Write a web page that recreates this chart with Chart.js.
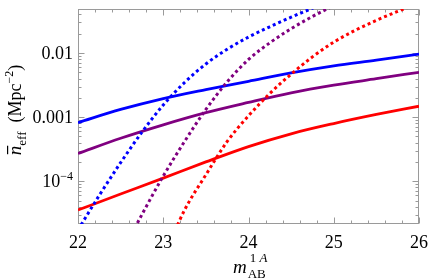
<!DOCTYPE html>
<html><head><meta charset="utf-8">
<script src="https://cdn.jsdelivr.net/npm/chart.js@4"></script>
<style>html,body{margin:0;padding:0;background:#fff}canvas{display:block}</style>
</head><body>
<canvas id="c" width="436" height="279"></canvas>
<script>
// ---- data ----
const xTickValues = [22, 23, 24, 25, 26];
const yTickValues = [1e-4, 1e-3, 1e-2];
const yTickLabels = [['10', '\u22124'], ['0.001', ''], ['0.01', '']];

const mSolid = [22, 22.5, 23, 23.5, 24, 24.5, 25, 25.5, 26];
const blueSolid   = [8.22e-4, 1.318e-3, 1.95e-3, 2.69e-3, 3.63e-3, 4.90e-3, 6.31e-3, 7.76e-3, 9.64e-3];
const purpleSolid = [2.71e-4, 4.68e-4, 7.59e-4, 1.175e-3, 1.70e-3, 2.40e-3, 3.16e-3, 3.98e-3, 5.01e-3];
const redSolid    = [3.55e-5, 6.31e-5, 1.12e-4, 2.00e-4, 3.47e-4, 5.50e-4, 7.94e-4, 1.10e-3, 1.48e-3];

const mBlueDot = [22, 22.25, 22.5, 22.75, 23, 23.25, 23.5, 23.75, 24, 24.25, 24.5, 24.75, 25];
const blueDotted = [1.74e-5, 6.03e-5, 1.95e-4, 5.82e-4, 1.549e-3, 3.47e-3, 6.76e-3, 1.148e-2, 1.778e-2, 2.57e-2, 3.63e-2, 5.01e-2, 6.92e-2];

const mPurpleDot = [22.5, 22.75, 23, 23.25, 23.5, 23.75, 24, 24.25, 24.5, 24.75, 25];
const purpleDotted = [7.08e-6, 3.02e-5, 1.202e-4, 4.17e-4, 1.318e-3, 3.55e-3, 7.94e-3, 1.445e-2, 2.40e-2, 3.72e-2, 5.50e-2];

const mRedDot = [23, 23.25, 23.5, 23.75, 24, 24.25, 24.5, 24.75, 25, 25.25, 25.5, 25.75, 26];
const redDotted = [6.31e-6, 3.55e-5, 1.259e-4, 4.17e-4, 1.047e-3, 2.34e-3, 4.68e-3, 8.71e-3, 1.479e-2, 2.26e-2, 3.24e-2, 4.47e-2, 6.03e-2];

const xMin = 22, xMax = 26, yMin = 2.15e-5, yMax = 0.0487;

// ---- build ----
const pts = (xs, ys) => xs.map((v, i) => ({x: v, y: ys[i]}));
const BLUE = '#0000ff', PURPLE = '#800080', RED = '#ff0000';
const SERIF = '"Liberation Serif", "DejaVu Serif", serif';

function solid(label, xs, ys, color) {
  return {label, data: pts(xs, ys), borderColor: color, borderWidth: 2.8,
    pointRadius: 0, fill: false, cubicInterpolationMode: 'monotone'};
}
function dotted(label, xs, ys, color) {
  return {label, data: pts(xs, ys), borderColor: color, borderWidth: 3,
    borderDash: [3, 3], borderCapStyle: 'butt', pointRadius: 0, fill: false,
    cubicInterpolationMode: 'monotone'};
}

const decor = {
  id: 'decor',
  beforeDatasetsDraw(chart) {
    const {ctx, chartArea: a, scales: {x, y}} = chart;
    ctx.save();
    ctx.strokeStyle = '#9a9a9a';
    ctx.lineWidth = 1;
    const L = Math.round(a.left) + 0.5, R = Math.round(a.right) - 0.5;
    const T = Math.round(a.top) + 0.5, B = Math.round(a.bottom) - 0.5;
    ctx.strokeRect(L, T, R - L, B - T);
    ctx.beginPath();
    for (let k = 0; k <= 20; k++) {
      const v = xMin + k * 0.2;
      const px = Math.round(x.getPixelForValue(v)) + 0.5;
      const len = (k % 5 === 0) ? 6 : 3;
      ctx.moveTo(px, B); ctx.lineTo(px, B - len);
      ctx.moveTo(px, T); ctx.lineTo(px, T + len);
    }
    for (let d = -6; d <= -1; d++) {
      for (let m = 1; m <= 9; m++) {
        const v = m * Math.pow(10, d);
        if (v < yMin || v > yMax) continue;
        const py = Math.round(y.getPixelForValue(v)) + 0.5;
        const len = (m === 1) ? 6 : 3;
        ctx.moveTo(L, py); ctx.lineTo(L + len, py);
        ctx.moveTo(R, py); ctx.lineTo(R - len, py);
      }
    }
    ctx.stroke();
    ctx.restore();
  },
  afterDraw(chart) {
    const {ctx, chartArea: a, scales: {y}} = chart;
    ctx.save();
    ctx.fillStyle = '#000';
    ctx.textBaseline = 'alphabetic';
    // y tick labels
    const rightX = a.left - 5;
    yTickValues.forEach((v, i) => {
      const py = y.getPixelForValue(v);
      const [base, sup] = yTickLabels[i];
      ctx.font = '12px ' + SERIF;
      const sw = sup ? ctx.measureText(sup).width : 0;
      ctx.font = '18px ' + SERIF;
      const bw = ctx.measureText(base).width;
      ctx.textAlign = 'left';
      ctx.fillText(base, rightX - sw - bw, py + 6);
      if (sup) {
        ctx.font = '12px ' + SERIF;
        ctx.fillText(sup, rightX - sw, py - 1);
      }
    });
    // y axis title (rotated)
    ctx.save();
    const parts = [
      {t: 'n', f: 'italic 19px ' + SERIF, dy: 0, bar: true},
      {t: 'eff', f: '13px ' + SERIF, dy: 5},
      {t: '  (Mpc', f: '18px ' + SERIF, dy: 0},
      {t: '\u22122', f: '12px ' + SERIF, dy: -8},
      {t: ')', f: '18px ' + SERIF, dy: 0}
    ];
    let total = 0;
    parts.forEach(p => { ctx.font = p.f; p.w = ctx.measureText(p.t).width; total += p.w; });
    ctx.translate(21, 110);
    ctx.rotate(-Math.PI / 2);
    let cx = -total / 2;
    ctx.textAlign = 'left';
    parts.forEach(p => {
      ctx.font = p.f;
      ctx.fillText(p.t, cx, p.dy);
      if (p.bar) {
        ctx.fillRect(cx + 1, -14, p.w - 1, 1.2);
      }
      cx += p.w;
    });
    ctx.restore();
    // x axis title
    ctx.textAlign = 'left';
    ctx.font = 'italic 19px ' + SERIF;
    const mx = 233;
    ctx.fillText('m', mx, 273);
    const mw = ctx.measureText('m').width;
    ctx.font = '13px ' + SERIF;
    ctx.fillText('AB', mx + mw + 1, 278);
    ctx.fillText('1', mx + mw + 3, 262);
    const w1 = ctx.measureText('1 ').width;
    ctx.font = 'italic 13px ' + SERIF;
    ctx.fillText('A', mx + mw + 3 + w1, 262);
    ctx.restore();
  }
};

new Chart(document.getElementById('c'), {
  type: 'line',
  data: {datasets: [
    dotted('blue dotted', mBlueDot, blueDotted, BLUE),
    dotted('purple dotted', mPurpleDot, purpleDotted, PURPLE),
    dotted('red dotted', mRedDot, redDotted, RED),
    solid('blue', mSolid, blueSolid, BLUE),
    solid('purple', mSolid, purpleSolid, PURPLE),
    solid('red', mSolid, redSolid, RED)
  ]},
  options: {
    responsive: false, animation: false, devicePixelRatio: 1,
    layout: {padding: {top: 9, right: 11, left: 0, bottom: 0}},
    plugins: {legend: {display: false}, tooltip: {enabled: false}},
    scales: {
      x: {type: 'linear', min: xMin, max: xMax,
        afterFit(s) { s.height = 55; },
        afterBuildTicks(s) { s.ticks = xTickValues.map(v => ({value: v})); },
        grid: {display: false, drawTicks: false}, border: {display: false},
        ticks: {color: '#000', font: {family: SERIF, size: 18}, padding: 8, maxRotation: 0,
          callback: v => String(v)}},
      y: {type: 'logarithmic', min: yMin, max: yMax,
        afterFit(s) { s.width = 78; },
        grid: {display: false, drawTicks: false}, border: {display: false},
        ticks: {display: false}}
    }
  },
  plugins: [decor]
});
</script>
</body></html>
